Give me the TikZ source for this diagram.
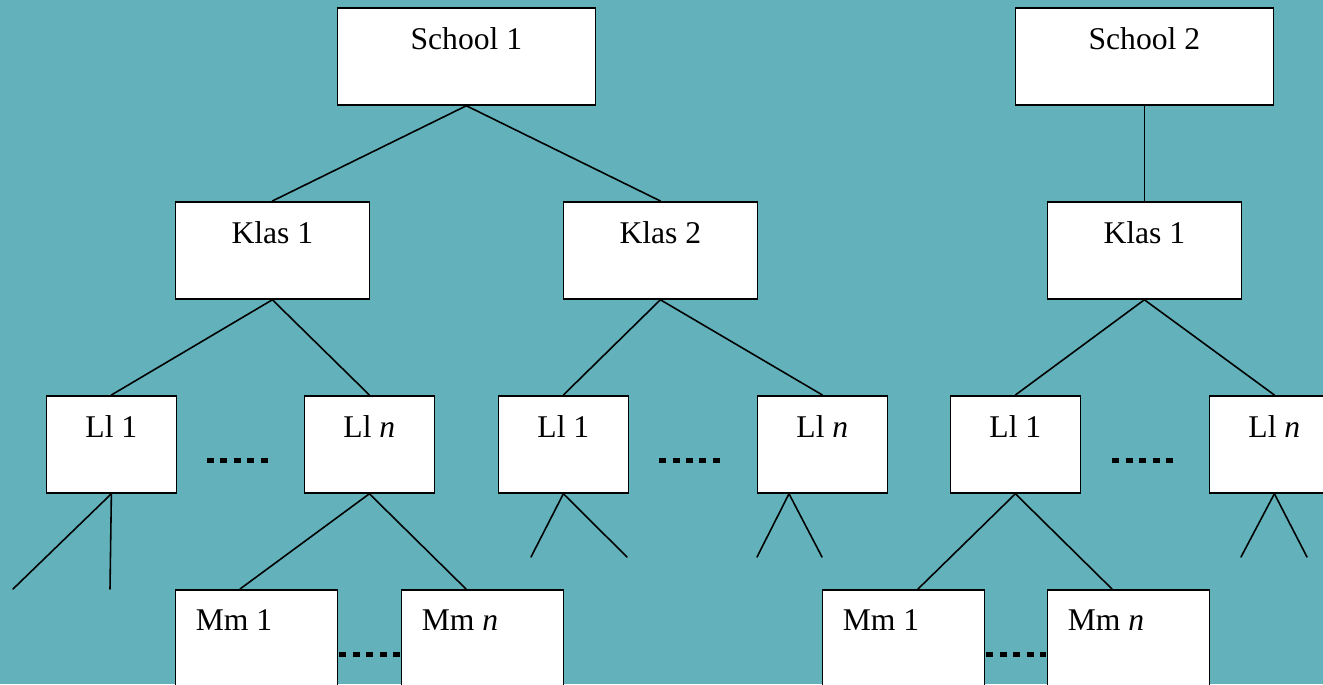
\documentclass[tikz,border=0pt]{standalone}
\usepackage{fontspec}
\setmainfont{Liberation Serif}
\usetikzlibrary{calc}
\definecolor{bgteal}{RGB}{99,177,187}
\tikzset{
  box/.style={draw=black, fill=white, line width=1pt, inner sep=0pt, minimum height=97*0.02cm, anchor=north west},
  wide/.style={box, minimum width=258*0.02cm},
  klas/.style={box, minimum width=194*0.02cm},
  ll/.style={box, minimum width=130*0.02cm},
  mm/.style={box, minimum width=162*0.02cm},
  lbl/.style={inner sep=0pt, anchor=base, font=\fontsize{18}{21}\selectfont},
  lbll/.style={lbl, anchor=base west},
  conn/.style={line width=0.9pt, line cap=round},
  dotrow/.style={line width=0.1cm, dash pattern=on 0.14cm off 0.13cm}
}
\begin{document}
\begin{tikzpicture}[x=0.02cm, y=-0.02cm]
\clip (0,0) rectangle (1323,684);
\useasboundingbox (0,0) rectangle (1323,684);
\fill[bgteal] (0,0) rectangle (1323,684);

% boxes
\node[wide] (s1) at (336.5,7) {};
\node[wide] (s2) at (1014.5,7) {};
\node[klas] (k1) at (174.5,201) {};
\node[klas] (k2) at (562.5,201) {};
\node[klas] (k3) at (1046.5,201) {};
\node[ll] (la) at (45.5,395) {};
\node[ll] (lb) at (303.5,395) {};
\node[ll] (lc) at (497.5,395) {};
\node[ll] (ld) at (756.5,395) {};
\node[ll] (le) at (949.5,395) {};
\node[ll] (lf) at (1208.5,395) {};
\node[mm] (ma) at (174.5,589) {};
\node[mm] (mb) at (400.5,589) {};
\node[mm] (mc) at (821.5,589) {};
\node[mm] (md) at (1046.5,589) {};

% labels
\node[lbl] (ts1) at ($(s1.north)+(0,42)$) {School 1};
\node[lbl] (ts2) at ($(s2.north)+(0,42)$) {School 2};
\node[lbl] (tk1) at ($(k1.north)+(0,42)$) {Klas 1};
\node[lbl] (tk2) at ($(k2.north)+(0,42)$) {Klas 2};
\node[lbl] (tk3) at ($(k3.north)+(0,42)$) {Klas 1};
\node[lbl] (tla) at ($(la.north)+(0,42)$) {Ll 1};
\node[lbl] (tlb) at ($(lb.north)+(0,42)$) {Ll \textit{n}};
\node[lbl] (tlc) at ($(lc.north)+(0,42)$) {Ll 1};
\node[lbl] (tld) at ($(ld.north)+(0,42)$) {Ll \textit{n}};
\node[lbl] (tle) at ($(le.north)+(0,42)$) {Ll 1};
\node[lbl] (tlf) at ($(lf.north)+(0,42)$) {Ll \textit{n}};
\node[lbll] (tma) at ($(ma.north west)+(21,41)$) {Mm 1};
\node[lbll] (tmb) at ($(mb.north west)+(21,41)$) {Mm \textit{n}};
\node[lbll] (tmc) at ($(mc.north west)+(21,41)$) {Mm 1};
\node[lbll] (tmd) at ($(md.north west)+(21,41)$) {Mm \textit{n}};

% free ends and offset anchors
\coordinate (ea1) at (13,589);
\coordinate (ea2) at (110,589);
\coordinate (ec1) at (531,557);
\coordinate (ec2) at (627,557);
\coordinate (edtop) at ($(ld.south west)+(32.5,0)$);
\coordinate (ed1) at (757,557);
\coordinate (ed2) at (822,557);
\coordinate (ef1) at (1241,557);
\coordinate (ef2) at (1307,557);
\coordinate (mat) at ($(ma.north west)+(65.5,0)$);
\coordinate (mbt) at ($(mb.north west)+(65.5,0)$);
\coordinate (mct) at ($(mc.north west)+(96.5,0)$);
\coordinate (mdt) at ($(md.north west)+(65.5,0)$);

% connectors
\draw[conn] (s1.south) -- (k1.north);
\draw[conn] (s1.south) -- (k2.north);
\draw[conn] (s2.south) -- (k3.north);
\draw[conn] (k1.south) -- (la.north);
\draw[conn] (k1.south) -- (lb.north);
\draw[conn] (k2.south) -- (lc.north);
\draw[conn] (k2.south) -- (ld.north);
\draw[conn] (k3.south) -- (le.north);
\draw[conn] (k3.south) -- (lf.north);
\draw[conn] (la.south) -- (ea1);
\draw[conn] (la.south) -- (ea2);
\draw[conn] (lb.south) -- (mat);
\draw[conn] (lb.south) -- (mbt);
\draw[conn] (lc.south) -- (ec1);
\draw[conn] (lc.south) -- (ec2);
\draw[conn] (edtop) -- (ed1);
\draw[conn] (edtop) -- (ed2);
\draw[conn] (le.south) -- (mct);
\draw[conn] (le.south) -- (mdt);
\draw[conn] (lf.south) -- (ef1);
\draw[conn] (lf.south) -- (ef2);

% dotted ellipses
\draw[dotrow] (207,460) -- (270,460);
\draw[dotrow] (659,460) -- (722,460);
\draw[dotrow] (1112,460) -- (1175,460);
\draw[dotrow] ($(ma.north east)+(1,65)$) -- ($(mb.north west)+(-1,65)$);
\draw[dotrow] ($(mc.north east)+(1,65)$) -- ($(md.north west)+(-1,65)$);
\end{tikzpicture}
\end{document}
